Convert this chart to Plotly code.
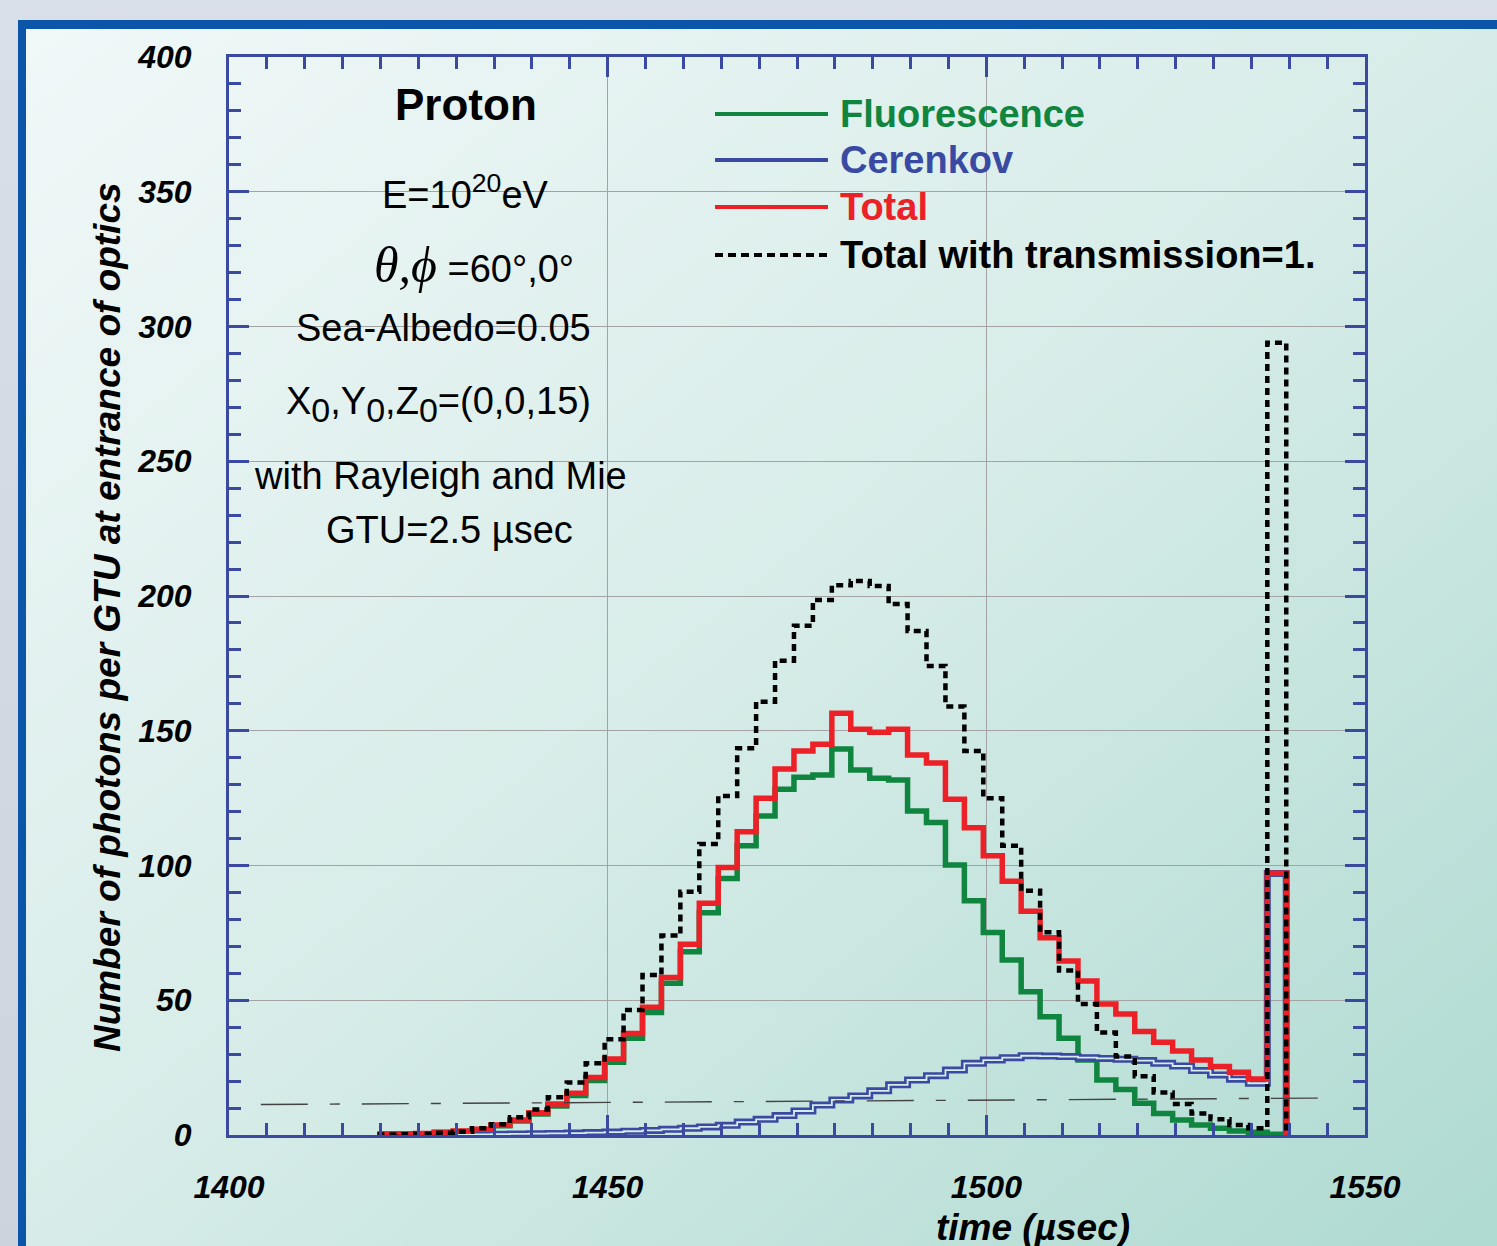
import base64
import numpy as np
import plotly.graph_objects as go

# ---------------- data ----------------
GTU = 2.5            # bin width, microseconds
t_start = 1419.6     # left edge of the first GTU bin
fluorescence = [0.2, 0.3, 0.5, 0.9, 1.3, 1.9, 3.4, 5.2, 7.8, 10.8, 14.7, 20.2, 27.0, 35.9,
                45.5, 56.3, 68.0, 82.5, 95.2, 107.3, 118.4, 128.3, 132.7, 133.6, 143.2,
                135.4, 132.4, 131.7, 120.2, 116.0, 100.2, 86.9, 75.1, 64.9, 53.2, 43.9,
                35.9, 27.8, 20.4, 16.9, 11.8, 8.0, 5.6, 3.7, 2.5, 1.5, 1.0, 0.3]
cerenkov = [0.05, 0.1, 0.1, 0.15, 0.2, 0.25, 0.3, 0.4, 0.5, 0.6, 0.7, 0.9, 1.1, 1.4, 1.7,
            2.1, 2.5, 3.0, 3.6, 4.8, 5.8, 7.2, 8.9, 11.1, 13.0, 14.5, 16.4, 18.6, 20.4,
            22.0, 24.1, 26.6, 27.8, 28.7, 29.4, 29.3, 29.1, 28.7, 28.4, 28.1, 27.6, 26.6,
            25.6, 23.9, 22.3, 20.7, 19.2, 97.0]
total = [0.2, 0.4, 0.6, 1.0, 1.5, 2.1, 3.7, 5.6, 8.3, 11.5, 15.5, 21.3, 28.2, 37.7, 47.4,
         58.4, 70.8, 86.0, 99.3, 112.5, 125.0, 135.8, 142.5, 145.0, 156.5, 150.6, 149.4,
         150.6, 141.0, 138.0, 124.6, 114.0, 103.6, 94.2, 83.0, 73.2, 64.6, 57.1, 48.6,
         44.9, 38.4, 34.4, 31.2, 27.8, 25.4, 23.3, 20.8, 97.1]
total_t1 = [0.2, 0.3, 0.5, 0.8, 1.2, 2.5, 4.0, 6.6, 9.5, 14.0, 19.5, 26.6, 35.5, 46.4, 59.4,
            74.0, 90.3, 108.0, 125.8, 143.5, 160.8, 176.0, 189.0, 198.5, 204.0, 205.6,
            203.7, 197.0, 187.0, 174.0, 159.0, 142.5, 125.0, 107.3, 90.6, 75.2, 61.0,
            48.6, 38.0, 29.1, 21.8, 15.8, 11.5, 8.0, 5.8, 3.7, 2.5, 294.0]
threshold_x = [1404.2, 1543.8]
threshold_y = [11.3, 13.7]

x_range = [1400, 1550]
y_range = [0, 400]

# ---------------- layout geometry ----------------
W, H = 1497, 1246
L, R, T, B = 229, 1365, 57, 1135


def px(p):
    return (p - L) / (R - L)


def py(p):
    return (B - p) / (B - T)


edges = t_start + GTU * np.arange(len(total) + 1)


def steps(vals):
    return list(edges), list(vals) + [0.0]


GREEN = "#10853f"
BLUE = "#3a4aa3"
RED = "#ec2127"
BLACK = "#000000"
AXIS = "#3a4aa0"
SANS = "Liberation Sans, Arial, Helvetica, sans-serif"

fig = go.Figure()

ex, ey = steps(fluorescence)
fig.add_trace(go.Scatter(x=ex, y=ey, mode="lines", line=dict(color=GREEN, width=5.5, shape="hv"),
                         showlegend=False, hoverinfo="skip"))
ex, ey = steps(cerenkov)
fig.add_trace(go.Scatter(x=ex, y=ey, mode="lines", line=dict(color=BLUE, width=7, shape="hv"),
                         showlegend=False, hoverinfo="skip"))
fig.add_trace(go.Scatter(x=ex, y=ey, mode="lines", line=dict(color="#d6ece8", width=1.8, shape="hv"),
                         showlegend=False, hoverinfo="skip"))
ex, ey = steps(total)
fig.add_trace(go.Scatter(x=ex, y=ey, mode="lines", line=dict(color=RED, width=5.5, shape="hv"),
                         showlegend=False, hoverinfo="skip"))
ex, ey = steps(total_t1)
fig.add_trace(go.Scatter(x=ex, y=ey, mode="lines",
                         line=dict(color=BLACK, width=4.5, shape="hv", dash="7px,5px"),
                         showlegend=False, hoverinfo="skip"))
fig.add_trace(go.Scatter(x=threshold_x, y=threshold_y, mode="lines",
                         line=dict(color="#444444", width=1.4, dash="47px,22px,10px,22px"),
                         showlegend=False, hoverinfo="skip"))

# ---------------- background (frame + gradient) ----------------
svg = (
    "<svg xmlns='http://www.w3.org/2000/svg' width='1497' height='1246' viewBox='0 0 1497 1246' "
    "preserveAspectRatio='none'><defs>"
    "<linearGradient id='g' x1='0' y1='0' x2='1' y2='1'>"
    "<stop offset='0' stop-color='#f0f8f8'/><stop offset='0.5' stop-color='#d7ece8'/>"
    "<stop offset='1' stop-color='#aedad1'/></linearGradient>"
    "<linearGradient id='t' x1='0' y1='0' x2='0' y2='1'>"
    "<stop offset='0' stop-color='#d9dfe8'/><stop offset='1' stop-color='#ccd3dd'/></linearGradient>"
    "</defs>"
    "<rect width='1497' height='1246' fill='url(#t)'/>"
    "<rect x='18' y='20' width='1479' height='1226' fill='#0b56a8'/>"
    "<rect x='26' y='29' width='1471' height='1217' fill='url(#g)'/>"
    "</svg>"
)
src = "data:image/svg+xml;base64," + base64.b64encode(svg.encode()).decode()

fig.add_layout_image(dict(source=src, xref="paper", yref="paper", x=px(0), y=py(0),
                          sizex=W / (R - L), sizey=H / (B - T), xanchor="left", yanchor="top",
                          sizing="stretch", layer="below"))

tickfont = dict(family=SANS, size=32, color="black", weight="bold", style="italic")

fig.update_xaxes(range=x_range, tick0=1400, dtick=50, ticks="inside", ticklen=20, tickwidth=3,
                 tickcolor=AXIS, showline=True, linewidth=3, linecolor=AXIS, mirror="allticks",
                 showgrid=True, gridcolor="#a3a3a3", gridwidth=1.4, zeroline=False,
                 tickfont=tickfont, ticklabelstandoff=22,
                 minor=dict(dtick=5, ticks="inside", ticklen=12, tickwidth=3, tickcolor=AXIS,
                            showgrid=False))
fig.update_yaxes(range=y_range, tick0=0, dtick=50, ticks="inside", ticklen=20, tickwidth=3,
                 tickcolor=AXIS, showline=True, linewidth=3, linecolor=AXIS, mirror="allticks",
                 showgrid=True, gridcolor="#a3a3a3", gridwidth=1.4, zeroline=False,
                 tickfont=tickfont, ticklabelstandoff=28,
                 minor=dict(dtick=10, ticks="inside", ticklen=12, tickwidth=3, tickcolor=AXIS,
                            showgrid=False))

ann = []


def add_text(text, x, y, font, xanchor="center", **kw):
    ann.append(dict(text=text, x=px(x), y=py(y), xref="paper", yref="paper", showarrow=False,
                    xanchor=xanchor, yanchor="middle", font=font, **kw))


bold_it = dict(family=SANS, size=37, color="black", weight="bold", style="italic")
# axis titles
add_text("time (µsec)", 1033, 1227, bold_it)
add_text("Number of photons per GTU at entrance of optics", 107, 617, bold_it, textangle=-90)

# info text block
regular = dict(family=SANS, size=38, color="black")
sub = "<sub><span style=\"font-size:34px\">0</span></sub>"
add_text("Proton", 466, 104, dict(family=SANS, size=44, color="black", weight="bold"))
add_text("E=10<sup>20</sup>eV", 465, 192, regular)
add_text("<span style=\"font-family:'Liberation Serif',serif;font-style:italic;"
         "font-size:50px\">θ,ϕ</span> =60°,0°", 474, 265, regular)
add_text("Sea-Albedo=0.05", 443, 328, regular)
add_text("X" + sub + ",Y" + sub + ",Z" + sub + "=(0,0,15)", 438, 404, regular)
add_text("with Rayleigh and Mie", 440, 476, regular)
add_text("GTU=2.5 µsec", 449, 530, regular)

# manual legend
legend_items = [("Fluorescence", GREEN, "solid", 114), ("Cerenkov", BLUE, "solid", 160),
                ("Total", RED, "solid", 207), ("Total with transmission=1.", BLACK, "8px,5px", 255)]
shapes = []
for name, col, dash, yy in legend_items:
    shapes.append(dict(type="line", xref="paper", yref="paper", x0=px(715), x1=px(828),
                       y0=py(yy), y1=py(yy), line=dict(color=col, width=4, dash=dash)))
    add_text(name, 838, yy, dict(family=SANS, size=38, color=col, weight="bold"), xanchor="left")

fig.update_layout(width=W, height=H, margin=dict(l=L, r=W - R, t=T, b=H - B),
                  paper_bgcolor="rgba(0,0,0,0)", plot_bgcolor="rgba(0,0,0,0)",
                  showlegend=False, annotations=ann, shapes=shapes)

fig.write_html("out.html")
